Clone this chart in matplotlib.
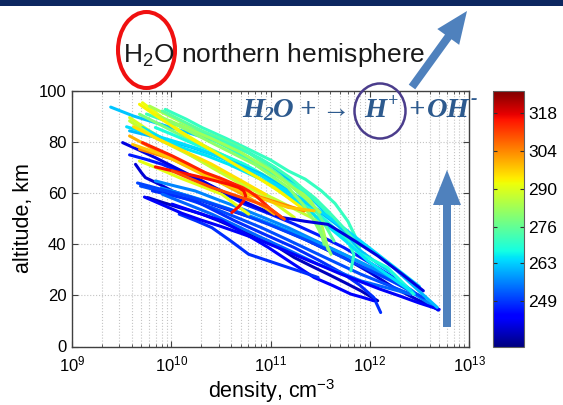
import numpy as np
import matplotlib
matplotlib.use('Agg')
import matplotlib.pyplot as plt
import matplotlib.colors as mcolors
from matplotlib.patches import Ellipse, FancyArrow, Rectangle
from matplotlib.ticker import LogLocator, NullFormatter

plt.rcParams['font.family'] = ['Liberation Sans', 'DejaVu Sans']
plt.rcParams['mathtext.fontset'] = 'custom'
plt.rcParams['mathtext.rm'] = 'Liberation Sans'
plt.rcParams['mathtext.it'] = 'Liberation Sans:italic'
plt.rcParams['mathtext.bf'] = 'Liberation Sans:bold'

# ---------------- data (log10 density [cm^-3], altitude [km], temperature [K]) -------------
profile_temps = [262, 271, 292, 289, 284, 279, 268, 270, 261, 265, 275, 264, 272, 283,
                 293, 287, 281, 291, 295,
                 240, 246, 239, 251, 237, 248, 253, 256, 243, 248, 258, 242, 250,
                 304, 300, 298, 314, 316, 310]
profile_logdens = [
    [9.39, 9.62, 9.84, 10.10, 10.34, 10.58, 10.78, 11.02, 11.24, 11.45, 11.64, 11.78, 11.91, 12.08, 12.24, 12.45],
    [9.94, 10.15, 10.31, 10.55, 10.78, 11.00, 11.18, 11.35, 11.51, 11.65, 11.78, 11.86],
    [9.71, 9.91, 10.10, 10.31, 10.51, 10.71, 10.90, 11.08, 11.25, 11.41],
    [9.58, 9.78, 10.10, 10.41, 10.66, 10.91, 11.08, 11.24],
    [9.78, 10.08, 10.30, 10.51, 10.75, 10.98, 11.20, 11.38, 11.48, 11.52, 11.58],
    [9.68, 9.88, 10.08, 10.33, 10.58, 10.82, 11.04, 11.25, 11.44, 11.50, 11.54],
    [9.84, 10.04, 10.24, 10.50, 10.74, 11.00, 11.24, 11.45, 11.64, 11.78, 11.91, 12.05, 12.18, 12.44],
    [10.08, 10.33, 10.58, 10.78, 10.98, 11.16, 11.34, 11.52, 11.68, 11.78, 11.84, 11.81],
    [9.58, 9.78, 9.98, 10.20, 10.41, 10.66, 10.91, 11.18, 11.44, 11.64, 11.84, 12.04, 12.24, 12.46, 12.68],
    [9.71, 9.91, 10.11, 10.35, 10.58, 10.83, 11.08, 11.30, 11.51, 11.75, 11.98, 12.20, 12.41],
    [9.91, 10.11, 10.31, 10.51, 10.71, 10.90, 11.08, 11.26, 11.44, 11.55, 11.64],
    [9.55, 9.80, 10.10, 10.30, 10.50, 10.70, 10.90, 11.10, 11.30, 11.50, 11.70, 11.90, 12.10, 12.30, 12.50],
    [9.75, 10.00, 10.30, 10.60, 10.90, 11.05, 11.20, 11.32, 11.45, 11.58, 11.70, 11.90],
    [9.85, 10.10, 10.40, 10.70, 11.00, 11.15, 11.30, 11.50],
    [9.68, 9.84, 9.98, 10.11, 10.24, 10.44, 10.64, 10.84, 11.04, 11.31],
    [9.58, 9.71, 9.84, 10.04, 10.24, 10.46, 10.68, 10.88, 11.08, 11.41],
    [9.98, 10.22, 10.44, 10.64, 10.84, 11.01, 11.18, 11.32, 11.44, 11.53, 11.61],
    [9.68, 9.88, 10.08, 10.30, 10.51, 10.65, 10.78],
    [9.62, 9.85, 10.10, 10.40, 10.70, 10.95],
    [9.51, 9.68, 9.84, 10.04, 10.24, 10.44, 10.64, 10.88, 11.11, 11.35, 11.58, 11.83, 12.08, 12.32, 12.54],
    [9.58, 9.75, 9.91, 10.11, 10.31, 10.52, 10.74, 11.00, 11.24, 11.50, 11.74, 12.00, 12.24, 12.47, 12.69],
    [9.64, 9.70, 9.74, 9.88, 10.01, 10.21, 10.41, 10.66, 10.91, 11.11, 11.31, 11.52, 11.74, 12.00, 12.24, 12.47, 12.69],
    [9.69, 9.85, 10.01, 10.21, 10.41, 10.66, 10.91, 11.16, 11.41, 11.66, 11.91, 12.16, 12.41],
    [9.76, 9.92, 10.08, 10.20, 10.31, 10.48, 10.64, 10.81, 10.98, 11.11, 11.24, 11.41, 11.58, 11.75, 11.91, 12.08],
    [9.81, 10.02, 10.24, 10.44, 10.64, 10.94, 11.24, 11.50, 11.74, 11.90, 12.04, 12.11],
    [9.91, 10.16, 10.41, 10.66, 10.91, 11.20, 11.48, 11.70, 11.91, 12.16, 12.41],
    [9.84, 10.04, 10.24, 10.46, 10.68, 10.93, 11.18, 11.46, 11.74, 12.00, 12.24, 12.44, 12.64],
    [10.01, 10.26, 10.51, 10.75, 10.98, 11.21, 11.44, 11.63, 11.81, 11.93, 12.04],
    [10.08, 10.25, 10.41, 10.60, 10.78, 10.98, 11.18, 11.33, 11.48],
    [9.90, 10.10, 10.30, 10.55, 10.80, 11.05, 11.30, 11.55, 11.80, 12.00, 12.20, 12.44],
    [9.73, 9.92, 10.11, 10.30, 10.50, 10.70, 10.90, 11.10, 11.30, 11.50, 11.70, 11.90, 12.10, 12.30, 12.50, 12.70],
    [9.66, 9.90, 10.20, 10.40, 10.60, 10.80, 11.00, 11.20, 11.40, 11.60, 11.80, 12.00, 12.20, 12.40, 12.55],
    [9.68, 9.88, 10.08, 10.30, 10.51, 10.71, 10.91, 11.12, 11.34],
    [9.58, 9.75, 9.91, 10.12, 10.34, 10.56, 10.78, 10.92, 11.04],
    [9.61, 9.80, 9.98, 10.18, 10.38, 10.58, 10.78, 10.98, 11.18, 11.44],
    [9.71, 9.86, 10.01, 10.18, 10.34, 10.50, 10.64, 10.72, 10.78, 10.85, 10.91, 11.00, 11.11],
    [9.84, 10.04, 10.24, 10.42, 10.58, 10.68, 10.73, 10.75, 10.73, 10.68, 10.61],
    [10.01, 10.21, 10.41, 10.61, 10.81, 10.90, 10.98, 11.06, 11.14],
]
profile_alts = [
    [93.7, 90.2, 87.6, 84.5, 81.7, 79.0, 75.9, 70.5, 63.5, 56.5, 49.2, 43.0, 37.4, 32.5, 28.3, 20.5],
    [92.8, 89.0, 85.7, 81.5, 77.2, 73.0, 68.7, 65.5, 61.0, 56.0, 49.0, 42.6],
    [95.4, 89.6, 84.0, 79.1, 74.5, 70.0, 65.5, 60.9, 56.5, 51.8],
    [89.6, 84.4, 77.0, 70.0, 64.5, 59.6, 55.0, 50.5],
    [94.1, 88.3, 84.0, 79.1, 74.0, 68.7, 63.5, 58.3, 52.5, 47.0, 38.0],
    [90.9, 87.0, 83.0, 78.5, 73.9, 69.5, 64.8, 58.5, 51.8, 46.0, 40.0],
    [85.7, 82.5, 79.1, 75.3, 71.3, 65.5, 59.6, 53.0, 46.5, 41.0, 36.1, 33.5, 30.9, 20.5],
    [87.0, 82.5, 77.8, 73.2, 68.7, 64.8, 60.9, 54.5, 47.8, 41.5, 36.0, 29.6],
    [84.4, 82.5, 80.4, 78.0, 75.2, 71.5, 67.4, 61.0, 54.4, 48.5, 42.6, 37.0, 30.9, 23.0, 15.3],
    [85.7, 81.5, 77.8, 74.8, 71.3, 66.8, 62.2, 56.0, 49.2, 41.5, 33.5, 27.5, 21.8],
    [92.2, 88.3, 84.4, 81.2, 77.8, 72.5, 67.4, 61.0, 54.4, 47.5, 41.3],
    [86.0, 83.0, 79.5, 77.0, 74.0, 70.5, 67.0, 62.5, 58.0, 53.0, 47.5, 41.5, 35.5, 29.5, 23.5],
    [91.0, 87.5, 83.5, 79.0, 73.5, 70.0, 66.0, 62.0, 58.0, 53.0, 48.0, 39.0],
    [90.5, 86.5, 81.5, 76.0, 69.0, 64.5, 60.0, 52.5],
    [94.8, 90.5, 87.0, 83.5, 80.4, 76.0, 71.3, 66.8, 62.2, 54.4],
    [88.3, 85.0, 81.7, 77.8, 73.9, 69.3, 64.8, 60.8, 57.0, 50.5],
    [88.3, 83.5, 79.1, 75.2, 71.3, 66.8, 62.2, 56.0, 49.2, 42.5, 36.1],
    [72.6, 69.5, 66.1, 62.8, 59.6, 55.5, 51.8],
    [86.0, 81.5, 77.0, 71.5, 65.0, 59.5],
    [79.8, 76.8, 73.9, 70.0, 66.1, 62.2, 58.3, 54.2, 50.5, 49.0, 47.8, 41.8, 35.5, 28.5, 21.8],
    [75.0, 73.2, 71.3, 68.0, 64.8, 60.2, 55.7, 51.8, 47.9, 43.3, 38.7, 32.8, 27.0, 20.5, 14.2],
    [71.3, 68.0, 66.1, 63.5, 60.9, 58.3, 55.7, 52.4, 49.2, 45.9, 42.6, 38.7, 34.8, 29.0, 23.1, 18.5, 14.6],
    [62.8, 61.2, 59.6, 57.0, 54.4, 50.5, 46.5, 42.0, 37.4, 32.8, 28.3, 24.4, 20.5],
    [58.3, 56.3, 54.4, 53.1, 51.8, 49.2, 46.5, 43.9, 41.3, 38.0, 34.8, 31.5, 28.3, 25.0, 21.8, 17.9],
    [60.9, 59.0, 57.0, 53.1, 49.2, 43.9, 38.7, 33.5, 28.3, 24.0, 19.2, 13.3],
    [59.6, 55.7, 51.8, 47.2, 42.6, 37.4, 32.2, 29.0, 25.7, 23.1, 20.5],
    [64.8, 62.8, 60.9, 57.6, 54.4, 50.5, 46.5, 41.3, 36.1, 31.0, 25.7, 20.8, 15.9],
    [55.7, 52.4, 49.2, 44.0, 38.7, 32.8, 27.0, 23.8, 20.5, 19.2, 17.9],
    [51.8, 49.2, 46.5, 41.3, 36.1, 33.5, 30.9, 29.0, 27.0],
    [62.0, 59.8, 57.5, 54.3, 51.0, 47.3, 43.5, 39.3, 35.0, 31.3, 27.5, 21.5],
    [58.5, 55.3, 52.1, 49.5, 47.0, 44.3, 41.5, 38.3, 35.0, 31.8, 28.5, 25.5, 22.5, 19.8, 17.0, 14.5],
    [64.0, 61.5, 58.5, 56.0, 53.5, 50.5, 47.5, 44.3, 41.0, 37.3, 33.5, 29.8, 26.0, 22.0, 19.0],
    [77.2, 74.9, 72.6, 68.7, 64.8, 61.6, 58.3, 55.7, 53.1],
    [82.4, 78.8, 75.2, 71.3, 67.4, 62.8, 58.3, 55.0, 51.8],
    [79.1, 76.5, 73.9, 70.0, 66.1, 62.8, 59.6, 57.0, 54.4, 53.1],
    [79.8, 77.2, 74.6, 71.3, 68.1, 65.8, 63.5, 62.2, 60.9, 59.0, 57.0, 53.8, 50.5],
    [70.3, 68.5, 66.8, 65.1, 63.5, 62.2, 60.9, 59.0, 57.0, 54.7, 52.4],
    [68.7, 65.4, 62.2, 59.6, 57.0, 55.7, 54.4, 52.1, 49.8],
]
temp_min, temp_max = 232, 326
cbar_ticks = [249, 263, 276, 290, 304, 318]
cbar_labels = ['249', '263', '276', '290', '304', '318']
y_ticks = [0, 20, 40, 60, 80, 100]

# ---------------- figure ----------------
W, H = 563, 405
fig = plt.figure(figsize=(W / 100, H / 100), dpi=100)
fig.patch.set_facecolor('white')


def fx(px):
    return px / W


def fy(py):
    return 1 - py / H


ax = fig.add_axes([fx(72), fy(346.5), (469 - 72) / W, (346.5 - 91) / H])
cmap = plt.get_cmap('jet')
norm = mcolors.Normalize(vmin=temp_min, vmax=temp_max)

# drawing order: most blue profiles underneath, then warm profiles, red on top
draw_order = list(range(20, 32)) + list(range(0, 19)) + [19] + list(range(32, 38))
for i in draw_order:
    T, L, A = profile_temps[i], profile_logdens[i], profile_alts[i]
    ax.plot(10 ** np.asarray(L), A, color=cmap(norm(T)), lw=2.2,
            solid_joinstyle='round', solid_capstyle='round', zorder=3)

ax.set_xscale('log')
ax.set_xlim(1e9, 1e13)
ax.set_ylim(0, 100)
ax.set_yticks(y_ticks)
ax.xaxis.set_major_locator(LogLocator(base=10, numticks=10))
ax.xaxis.set_minor_locator(LogLocator(base=10, subs=np.arange(2, 10), numticks=50))
ax.xaxis.set_minor_formatter(NullFormatter())
ax.grid(True, which='major', ls=':', color='#c4c4c4', lw=0.8)
ax.grid(True, which='minor', axis='x', ls=':', color='#c4c4c4', lw=0.8)
ax.tick_params(which='both', direction='in', top=True, right=True, color='#404040')
ax.tick_params(which='major', length=4, labelsize=12, pad=4)
ax.tick_params(axis='x', which='major', pad=6)
ax.tick_params(which='minor', length=2)
for s in ax.spines.values():
    s.set_color('#404040')
    s.set_linewidth(1.0)

# ---------------- colorbar ----------------
cax = fig.add_axes([fx(493), fy(347), 31 / W, 256 / H])
sm = plt.cm.ScalarMappable(norm=norm, cmap=cmap)
cb = fig.colorbar(sm, cax=cax)
cb.set_ticks(cbar_ticks)
cb.set_ticklabels(cbar_labels)
cax.tick_params(direction='in', length=3, left=True, right=True, labelsize=12.5, pad=3,
                color='#303030')
cb.outline.set_edgecolor('#606060')
cb.outline.set_linewidth(0.8)

# ---------------- overlay (slide annotations) ----------------
ov = fig.add_axes([0, 0, 1, 1])
ov.set_xlim(0, W)
ov.set_ylim(H, 0)
ov.axis('off')

ov.add_patch(Rectangle((0, 0), W, 5.5, color='#0d2760', lw=0))

ov.text(274, 62, 'H$_{2}$O northern hemisphere', ha='center', va='baseline',
        fontsize=19, color='#1a1a1a')
ov.text(24, 218, 'altitude, km', rotation=90, ha='center', va='center', fontsize=15.5)
ov.text(272, 398, 'density, cm$^{-3}$', ha='center', va='baseline', fontsize=15.5)

ov.add_patch(Ellipse((146.5, 50), 57, 76, fill=False, ec='#f01010', lw=2.9))
ov.add_patch(Ellipse((380, 111), 51, 55, fill=False, ec='#4b3d8c', lw=1.8))

arrow_col = '#4f81bd'
ov.add_patch(FancyArrow(447, 327, 0, -157, width=8, head_width=28, head_length=35,
                        length_includes_head=True, color=arrow_col, lw=0))
ov.add_patch(FancyArrow(412, 87, 55, -76, width=8, head_width=27, head_length=32,
                        length_includes_head=True, color=arrow_col, lw=0))

rx_col = '#2d5a8e'
serif = ['Liberation Serif', 'DejaVu Serif']
pieces = [
    ('H', 242, 117, 20.5), ('2', 263, 120, 14), ('O', 273, 117, 20.5),
    ('+', 299, 117, 20.5), ('\u2192', 321, 117, 20.5), ('H', 364, 117, 20.5),
    ('+', 388, 106, 13), ('+', 408, 117, 20.5), ('OH', 427, 117, 20.5),
    ('-', 471, 104, 14),
]
for s, x, y, fs in pieces:
    ov.text(x, y, s, ha='left', va='baseline', fontsize=fs, color=rx_col,
            family=serif, fontweight='bold', fontstyle='italic')

fig.savefig('out.png', dpi=100)
